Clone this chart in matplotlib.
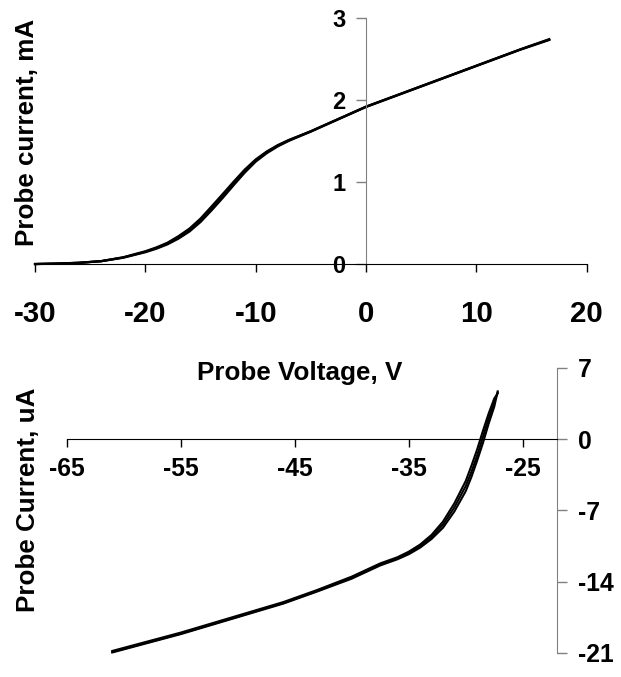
import matplotlib.pyplot as plt
from matplotlib import font_manager

# top panel: probe current (mA) against probe voltage (V), overlapping sweeps
v_top = [-30, -28, -26, -24, -22, -20, -19, -18, -17, -16, -15, -14, -13, -12, -11,
         -10, -9, -8, -7, -6, -5, -4, -3, -2, -1, 0, 2, 4, 6, 8, 10, 12, 14, 16.6]
i_top_1 = [0.00, 0.005, 0.015, 0.035, 0.08, 0.15, 0.195, 0.25, 0.325, 0.415, 0.535,
           0.68, 0.83, 0.985, 1.135, 1.265, 1.365, 1.445, 1.51, 1.565, 1.62, 1.68,
           1.74, 1.80, 1.86, 1.92, 2.02, 2.12, 2.22, 2.32, 2.42, 2.52, 2.62, 2.74]
i_top_2 = [0.00, 0.005, 0.014, 0.034, 0.077, 0.144, 0.187, 0.24, 0.31, 0.397, 0.513,
           0.655, 0.805, 0.962, 1.115, 1.25, 1.353, 1.436, 1.503, 1.56, 1.616, 1.677,
           1.737, 1.797, 1.857, 1.917, 2.017, 2.117, 2.217, 2.317, 2.417, 2.517, 2.617, 2.735]
i_top_3 = [0.00, 0.006, 0.016, 0.036, 0.083, 0.156, 0.203, 0.26, 0.34, 0.433, 0.555,
           0.703, 0.853, 1.005, 1.152, 1.277, 1.374, 1.452, 1.515, 1.568, 1.622, 1.682,
           1.742, 1.802, 1.862, 1.922, 2.022, 2.122, 2.222, 2.322, 2.422, 2.522, 2.622, 2.745]
x_ticks_top = [-30, -20, -10, 0, 10, 20]
y_ticks_top = [0, 1, 2, 3]

# bottom panel: probe current (uA) against probe voltage (V)
v_bot = [-61.0, -58, -55, -52, -49, -46, -43, -40, -37.5, -36, -35, -34, -33, -32,
         -31, -30, -29.5, -29, -28.5, -28, -27.5, -27.2]
i_bot_1 = [-20.9, -20.0, -19.1, -18.1, -17.1, -16.1, -14.9, -13.6, -12.3, -11.7,
           -11.2, -10.5, -9.6, -8.4, -6.7, -4.6, -3.2, -1.6, 0.2, 2.0, 3.6, 4.6]
i_bot_2 = [-20.8, -19.9, -19.0, -18.0, -17.0, -16.0, -14.8, -13.5, -12.2, -11.6,
           -11.05, -10.35, -9.4, -8.1, -6.3, -4.1, -2.6, -1.0, 0.8, 2.5, 4.0, 4.5]
i_bot_3 = [-20.95, -20.05, -19.15, -18.15, -17.15, -16.15, -14.95, -13.7, -12.4, -11.8,
           -11.3, -10.65, -9.8, -8.7, -7.1, -5.1, -3.7, -2.1, -0.4, 1.5, 3.2, 4.7]
x_ticks_bot = [-65, -55, -45, -35, -25]
y_ticks_bot = [7, 0, -7, -14, -21]

names = {f.name for f in font_manager.fontManager.ttflist}
narrow = 'Liberation Sans Narrow' in names
plt.rcParams['font.family'] = 'Liberation Sans Narrow' if narrow else 'Liberation Sans'
plt.rcParams['font.weight'] = 'bold'
plt.rcParams['axes.unicode_minus'] = False
scale = 1.0 if narrow else 0.85

grey = '#808080'
fig = plt.figure(figsize=(6.21, 6.77), dpi=100)

# top chart
ax1 = fig.add_axes([0.0564, 0.6100, 0.8884, 0.3630])
for cur in (i_top_1, i_top_2, i_top_3):
    ax1.plot(v_top, cur, color='black', lw=1.6, clip_on=False)
ax1.set_xlim(-30, 20)
ax1.set_ylim(0, 3)
ax1.spines['left'].set_position(('data', 0))
ax1.spines['bottom'].set_position(('data', 0))
ax1.spines['top'].set_visible(False)
ax1.spines['right'].set_visible(False)
ax1.spines['left'].set_color(grey)
ax1.set_xticks(x_ticks_top)
ax1.set_yticks(y_ticks_top)
ax1.tick_params(axis='x', direction='out', length=6, width=1, pad=20, labelsize=25 * scale)
ax1.tick_params(axis='y', direction='out', length=7, width=1, color=grey, pad=8,
                labelsize=20 * scale)

# bottom chart
ax2 = fig.add_axes([0.1074, 0.0355, 0.7895, 0.4210])
for cur in (i_bot_1, i_bot_2, i_bot_3):
    ax2.plot(v_bot, cur, color='black', lw=1.5, clip_on=False)
ax2.set_xlim(-65, -22)
ax2.set_ylim(-21, 7)
ax2.spines['bottom'].set_position(('data', 0))
ax2.spines['top'].set_visible(False)
ax2.spines['left'].set_visible(False)
ax2.spines['right'].set_color(grey)
ax2.yaxis.tick_right()
ax2.set_xticks(x_ticks_bot)
ax2.set_yticks(y_ticks_bot)
ax2.tick_params(axis='x', direction='out', length=6, width=1, pad=7, labelsize=21 * scale)
ax2.tick_params(axis='y', direction='out', length=7, width=1, color=grey, pad=8,
                labelsize=21 * scale)

fs = 22 * scale
fig.text(300 / 621, 1 - 373 / 677, 'Probe Voltage, V', ha='center', va='center', fontsize=fs)
fig.text(27 / 621, 1 - 132 / 677, 'Probe current, mA', rotation=90,
         ha='center', va='center', fontsize=fs)
fig.text(28 / 621, 1 - 500 / 677, 'Probe Current, uA', rotation=90,
         ha='center', va='center', fontsize=fs)

fig.savefig('out.png', dpi=100)
